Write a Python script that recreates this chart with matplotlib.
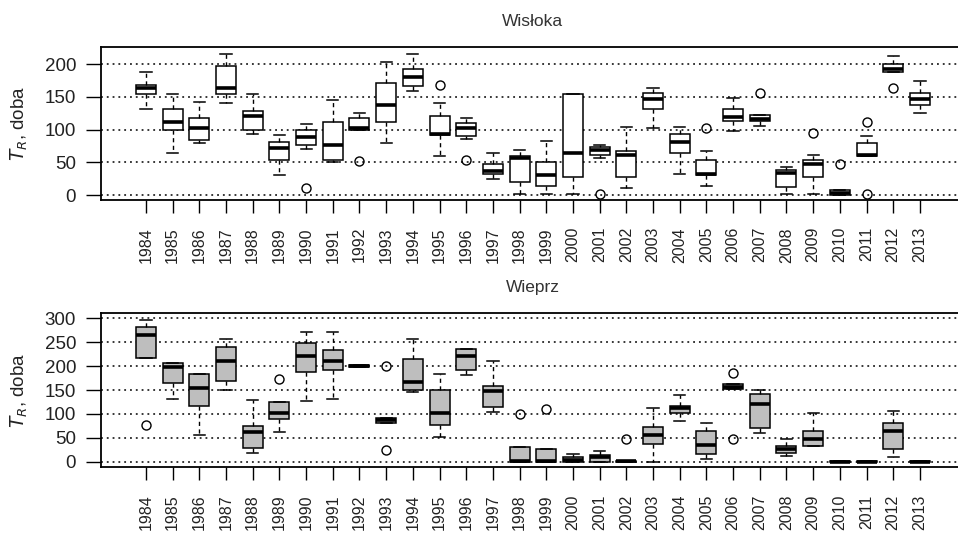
import matplotlib
matplotlib.use("Agg")
import matplotlib.pyplot as plt

plt.rcParams['font.family'] = ['Liberation Sans', 'DejaVu Sans']

years = [str(y) for y in range(1984, 2014)]

# Wisłoka
w_lo  = [131, 64, 80, 141, 93, 30, 71, 51, 100, 79, 159, 59, 85, 25, 1, 1, 1, 57, 10, 102, 32, 14, 98, 106, 1, 1, 0, 60, 188, 125]
w_q1  = [154, 100, 84, 154, 99, 54, 77, 54, 100, 111, 167, 92, 90, 32, 20, 14, 28, 61, 28, 131, 64, 31, 113, 113, 12, 28, 0, 60, 188, 138]
w_med = [163, 111, 103, 163, 121, 72, 89, 77, 103, 138, 180, 93, 102, 37, 57, 31, 64, 69, 61, 147, 81, 32, 119, 117, 33, 47, 3.5, 61, 193, 147]
w_q3  = [169, 131, 118, 198, 129, 81, 99, 111, 118, 172, 193, 121, 110, 48, 60, 50, 154, 74, 68, 156, 93, 54, 131, 122, 38, 54, 7, 79, 201, 156]
w_hi  = [188, 154, 142, 216, 155, 92, 108, 145, 125, 204, 216, 141, 118, 65, 69, 82, 154, 76, 104, 164, 104, 68, 149, 122, 43, 61, 7, 91, 213, 174]
w_fl  = [[], [], [], [], [], [], [10], [], [52], [], [], [169], [54], [], [], [], [], [1], [], [],
         [], [103], [], [156], [], [95], [48], [112, 1], [163], []]

# Wieprz
p_lo  = [216, 131, 56, 149, 19, 63, 128, 131, 198, 81, 145, 51, 181, 105, 0, 0, 0, 0, 0, 0, 86, 6, 152, 60, 12, 32, 0, 0, 10, 0]
p_q1  = [216, 165, 117, 169, 28, 89, 187, 192, 198, 81, 151, 77, 192, 114, 0, 0, 0, 0, 0, 37, 101, 16, 152, 70, 18, 32, 0, 0, 27, 0]
p_med = [266, 198, 154, 211, 62, 101, 222, 210, 200, 87, 167, 101, 222, 147, 1, 1, 4, 9, 1, 56, 112, 34, 157, 120, 27, 48, 0, 0, 65, 0]
p_q3  = [281, 207, 183, 239, 74, 124, 249, 233, 202, 92, 214, 149, 235, 159, 31, 27, 10, 13, 2, 72, 117, 65, 162, 142, 32, 65, 1, 1, 81, 1]
p_hi  = [296, 207, 183, 256, 129, 124, 272, 272, 202, 92, 256, 183, 235, 210, 31, 27, 17, 23, 2, 112, 140, 81, 162, 150, 48, 101, 1, 1, 107, 1]
p_fl  = [[77], [], [], [], [], [174], [], [], [], [200, 25], [], [], [], [], [100], [110], [], [], [47], [],
         [], [], [185, 47], [], [], [], [], [], [], []]

W, H = 958, 537
fig = plt.figure(figsize=(W / 100, H / 100), dpi=100)


def make_stats(lo, q1, med, q3, hi, fl):
    return [dict(whislo=a, q1=b, med=c, q3=d, whishi=e, fliers=f, label=y)
            for a, b, c, d, e, f, y in zip(lo, q1, med, q3, hi, fl, years)]


def panel(rect, stats, fill, ylim, yticks, title):
    ax = fig.add_axes(rect)
    pos = list(range(1, len(stats) + 1))
    ax.bxp(stats, positions=pos, widths=0.75, capwidths=0.42, patch_artist=True,
           boxprops=dict(facecolor=fill, edgecolor='black', linewidth=1.1),
           medianprops=dict(color='black', linewidth=2.6, solid_capstyle='butt'),
           whiskerprops=dict(color='black', linewidth=1.0, linestyle=(0, (3, 2.5))),
           capprops=dict(color='black', linewidth=1.1),
           flierprops=dict(marker='o', markerfacecolor='none', markeredgecolor='black',
                           markersize=6.5, markeredgewidth=1.0),
           zorder=3)
    ax.set_xlim(-0.686, 31.54)
    ax.set_ylim(*ylim)
    ax.set_yticks(yticks)
    ax.set_yticklabels([str(t) for t in yticks], fontsize=13.5, color='#222222')
    ax.set_xticks(pos)
    ax.set_xticklabels(years, rotation=90, fontsize=11.5, color='#222222')
    ax.tick_params(axis='y', length=11, width=1, pad=7)
    ax.tick_params(axis='x', length=9.5, width=1, pad=10)
    for t in yticks:
        ax.axhline(t, color='black', linewidth=1.1, linestyle=(0, (1.2, 2.6)), zorder=1)
    for s in ax.spines.values():
        s.set_linewidth(1.3)
    ax.set_ylabel(r'$T_R$, doba', fontsize=13.5, color='#222222')
    ax.yaxis.set_label_coords(-0.083, 0.5)
    ax.text(0.502, 1.165, title, transform=ax.transAxes, ha='center', va='center',
            fontsize=12.5, color='#333333')
    return ax


left = 101 / W
width = (961 - 101) / W

panel([left, 1 - 200 / H, width, 153 / H],
      make_stats(w_lo, w_q1, w_med, w_q3, w_hi, w_fl),
      'white', (-7.65, 226.5), [0, 50, 100, 150, 200], 'Wisłoka')

panel([left, 1 - 467.3 / H, width, 154 / H],
      make_stats(p_lo, p_q1, p_med, p_q3, p_hi, p_fl),
      '#bebebe', (-11.7, 310.5), [0, 50, 100, 150, 200, 250, 300], 'Wieprz')

fig.savefig('out.png', dpi=100, facecolor='white')
